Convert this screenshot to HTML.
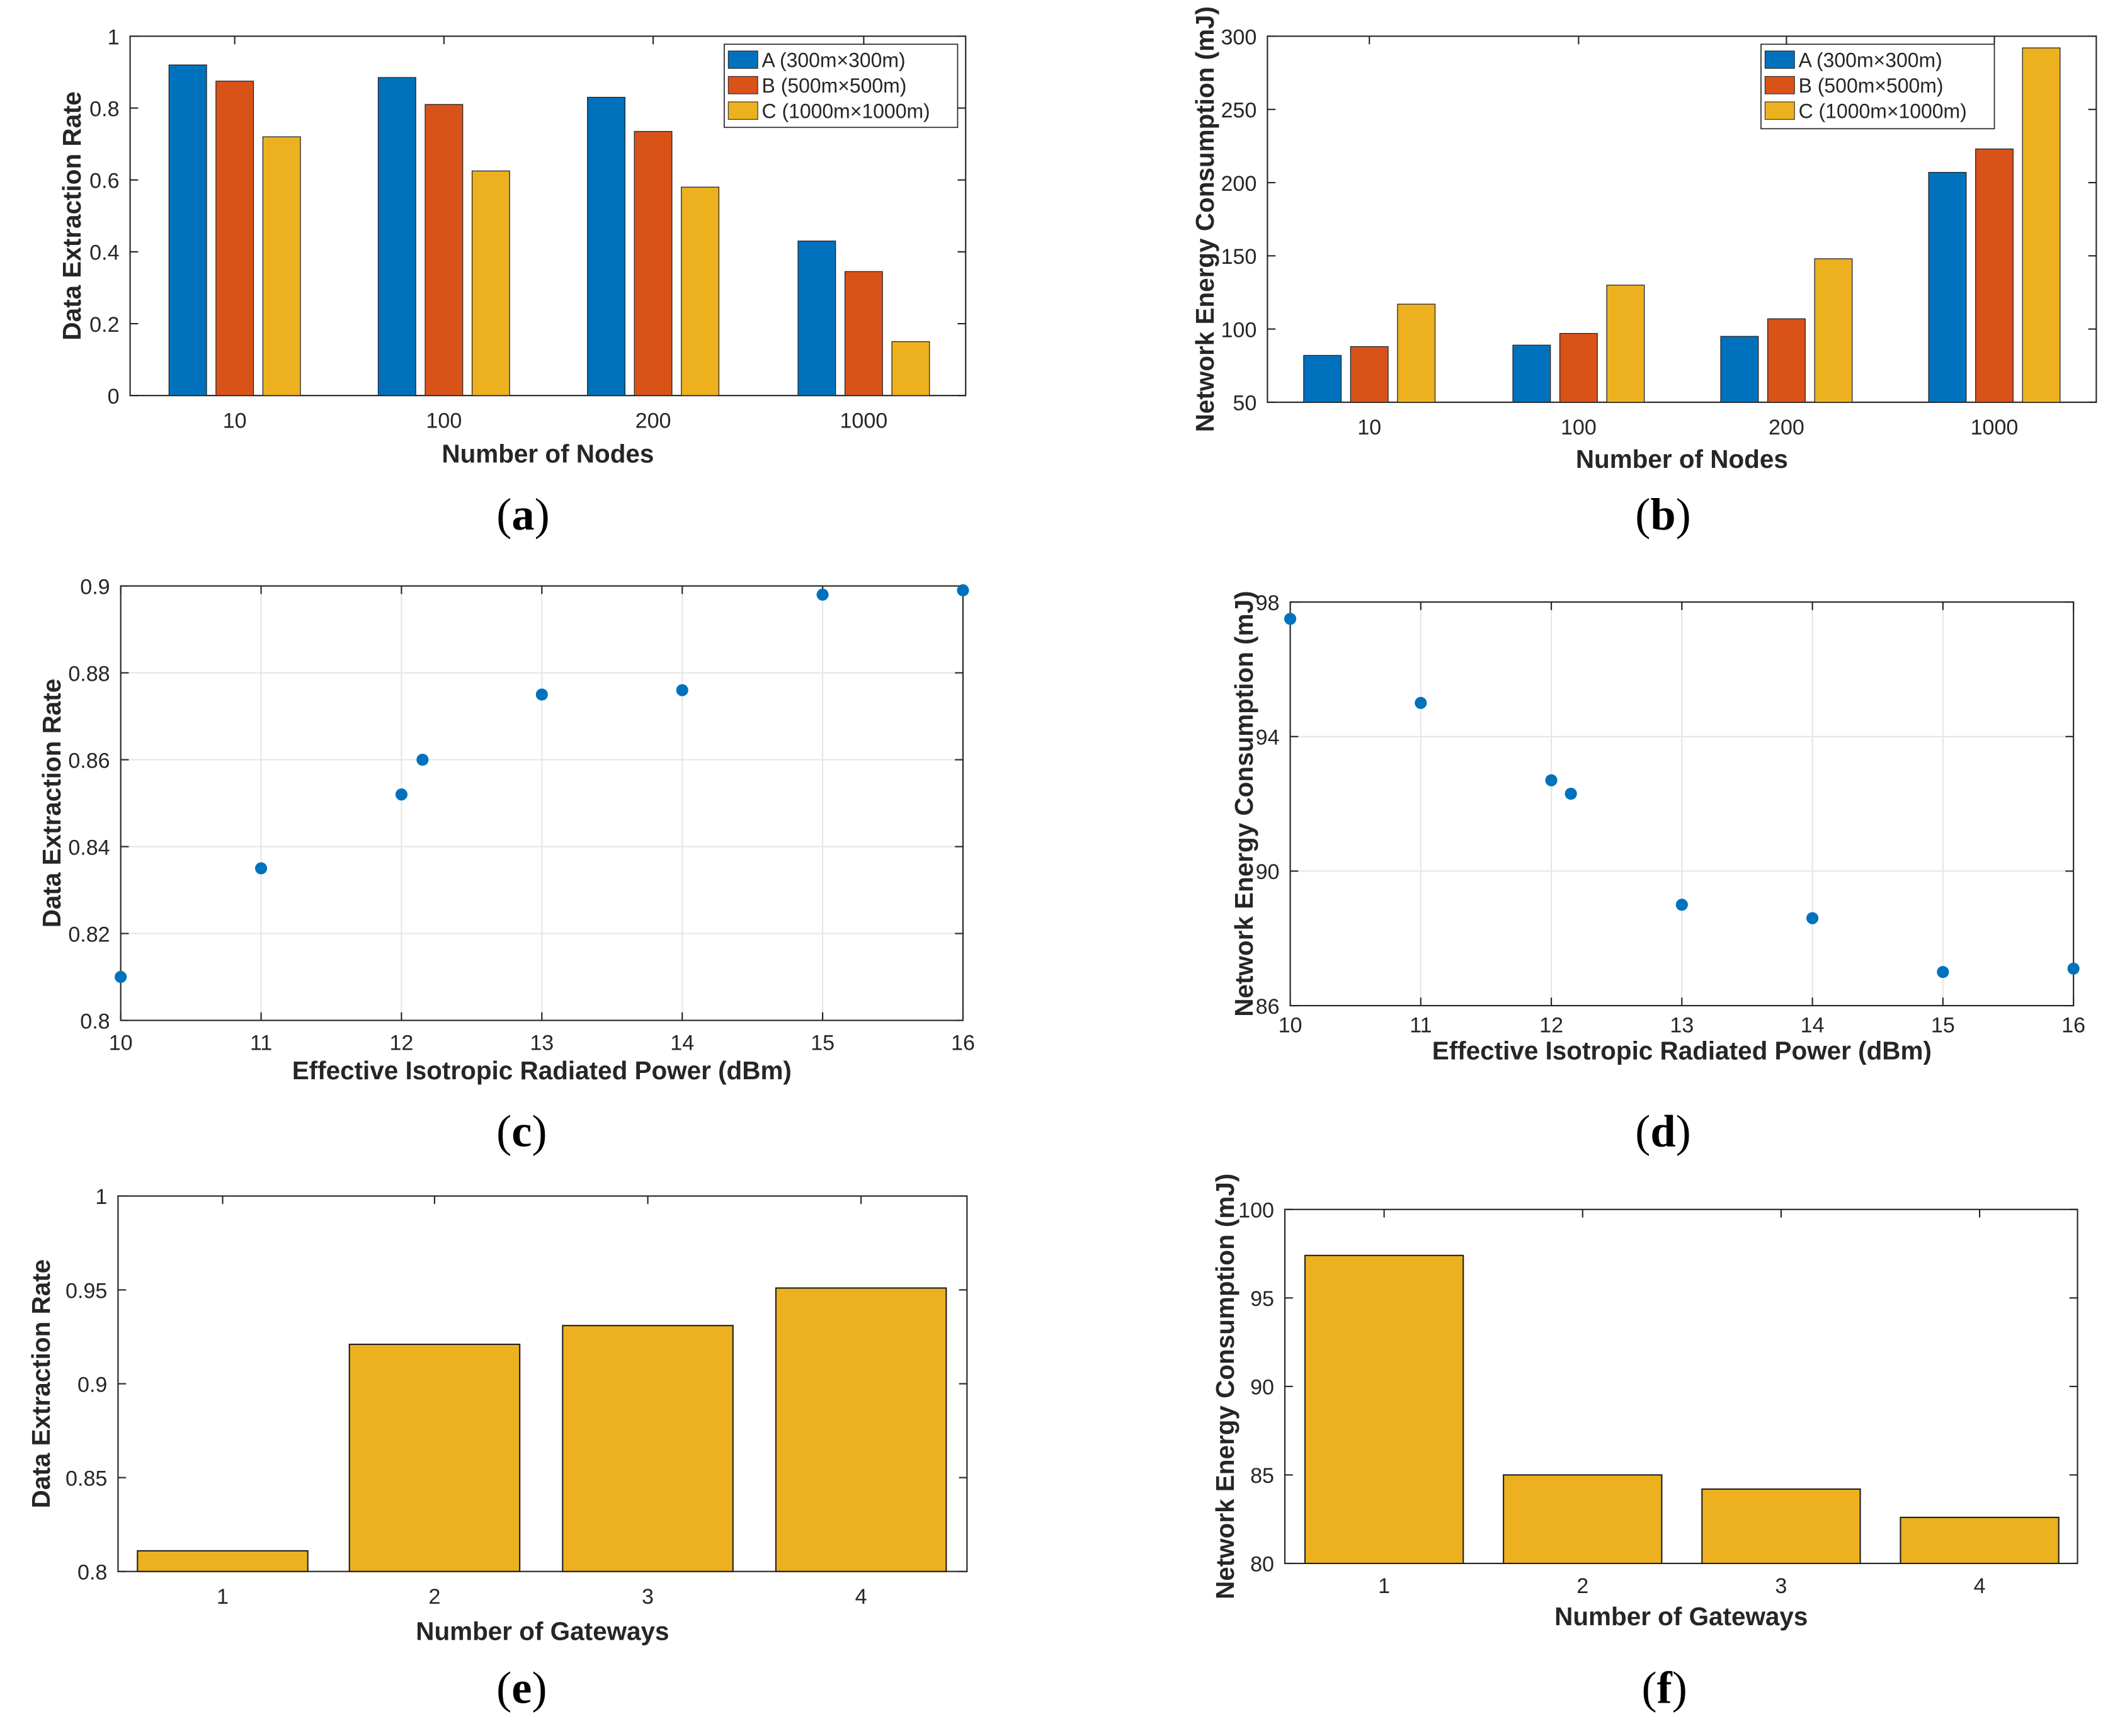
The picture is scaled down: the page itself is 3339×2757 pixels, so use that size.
<!DOCTYPE html>
<html><head><meta charset="utf-8">
<style>
html,body{margin:0;padding:0;background:#fff}
svg{display:block}
text{font-family:"Liberation Sans",sans-serif;fill:#262626}
.tick{font-size:16px}
.lab{font-size:19px;font-weight:bold}
.pl{font-family:"Liberation Serif",serif;font-size:34px;fill:#000}
.leg{font-size:15px}
</style></head>
<body>
<svg id="fig" width="3339" height="2757" viewBox="0 0 1568 1294.7" xmlns="http://www.w3.org/2000/svg"></svg>
<script>
// ---- data ----
const nodeCats = ["10","100","200","1000"];
const extractA = [0.92,0.885,0.83,0.43];
const extractB = [0.875,0.81,0.735,0.345];
const extractC = [0.72,0.625,0.58,0.15];
const energyA = [82,89,95,207];
const energyB = [88,97,107,223];
const energyC = [117,130,148,292];
const eirpX = [10,11,12,12.15,13,14,15,16];
const eirpExtract = [0.81,0.835,0.852,0.86,0.875,0.876,0.898,0.899];
const eirpEnergy = [97.5,95,92.7,92.3,89,88.6,87,87.1];
const gwCats = ["1","2","3","4"];
const gwExtract = [0.811,0.921,0.931,0.951];
const gwEnergy = [97.4,85,84.2,82.6];
const legendNames = ["A (300m\u00d7300m)","B (500m\u00d7500m)","C (1000m\u00d71000m)"];
const colors = ["#0072BD","#D95319","#EDB120"];

const svg = document.getElementById('fig');
const NS = "http://www.w3.org/2000/svg";
function mk(tag, attrs, parent){
  const e = document.createElementNS(NS, tag);
  for (const k in attrs) e.setAttribute(k, attrs[k]);
  (parent||svg).appendChild(e);
  return e;
}
function txt(x,y,s,cls,anchor,parent){
  const t = mk('text',{x:x,y:y,class:cls,'text-anchor':anchor||'middle'},parent);
  t.textContent = s;
  return t;
}

function panel(cfg){
  const g = mk('g',{});
  
  
  const {x0,x1,y0,y1,ymin,ymax} = cfg;
  const ys = v => y1 - (v-ymin)/(ymax-ymin)*(y1-y0);
  const xs = cfg.xs;
  if (cfg.grid){
    cfg.yticks.forEach(v=>{ mk('line',{x1:x0,x2:x1,y1:ys(v),y2:ys(v),stroke:'#e6e6e6','stroke-width':1},g); });
    cfg.xticks.forEach(v=>{ mk('line',{x1:xs(v),x2:xs(v),y1:y0,y2:y1,stroke:'#e6e6e6','stroke-width':1},g); });
  }
  mk('rect',{x:x0,y:y0,width:x1-x0,height:y1-y0,fill:'none',stroke:'#262626','stroke-width':1},g);
  cfg.yticks.forEach((v,i)=>{
    const y = ys(v);
    mk('line',{x1:x0,x2:x0+6,y1:y,y2:y,stroke:'#262626'},g);
    mk('line',{x1:x1,x2:x1-6,y1:y,y2:y,stroke:'#262626'},g);
    const t = txt(x0-8,y+6,cfg.ylabels[i],'tick','end',g);
    
    
  });
  cfg.xticks.forEach((v,i)=>{
    const x = xs(v);
    mk('line',{x1:x,x2:x,y1:y1,y2:y1-6,stroke:'#262626'},g);
    mk('line',{x1:x,x2:x,y1:y0,y2:y0+6,stroke:'#262626'},g);
    const t = txt(x,y1+cfg.xtickOff,cfg.xlabels[i],'tick','middle',g);
    
    
  });
  const xl = txt((x0+x1)/2,cfg.xlabY,cfg.xtitle,'lab','middle',g);
  
  
  const yl = txt(0,0,cfg.ytitle,'lab','middle',g);
  yl.setAttribute('transform',`translate(${cfg.ylabX},${(y0+y1)/2}) rotate(-90)`);
  
  
  const pl = mk('text',{x:cfg.plX,y:cfg.plY,class:'pl','text-anchor':'middle'},g);
  
  
  pl.appendChild(document.createTextNode('('));
  const b = mk('tspan',{'font-weight':'bold'},pl);
  b.textContent = cfg.letter;
  pl.appendChild(document.createTextNode(')'));
  return {g,ys,xs};
}

function groupedBars(P, series, y1, centers, bw, off){
  series.forEach((arr,s)=>{
    arr.forEach((v,i)=>{
      const x = centers[i] + (s-1)*off - bw/2;
      const r = mk('rect',{x:x,y:P.ys(v),width:bw,height:y1-P.ys(v),fill:colors[s],stroke:'#222','stroke-width':0.6},P.g);
      
      
    });
  });
}
function legend(g,x,y,w,h){
  const lg = mk('g',{},g);
  
  
  mk('rect',{x:x,y:y,width:w,height:h,fill:'#fff',stroke:'#262626','stroke-width':0.8},lg);
  legendNames.forEach((n,i)=>{
    const e = mk('g',{},lg);
    
    
    mk('rect',{x:x+3,y:y+5+i*19,width:22,height:13,fill:colors[i],stroke:'#222','stroke-width':0.5},e);
    txt(x+28,y+17+i*19,n,'leg','start',e);
  });
}

{
  const cx = [175,331,487,644];
  const P = panel({name:'panel-a',x0:97,x1:720,y0:27,y1:295,ymin:0,ymax:1,
    yticks:[0,0.2,0.4,0.6,0.8,1],ylabels:["0","0.2","0.4","0.6","0.8","1"],
    xticks:[0,1,2,3],xlabels:nodeCats,xs:i=>cx[i],xtickOff:24,
    xtitle:'Number of Nodes',xlabY:345,ytitle:'Data Extraction Rate',ylabX:60,
    letter:'a',plX:390,plY:395});
  groupedBars(P,[extractA,extractB,extractC],295,cx,28,35);
  legend(P.g,540,33,174,62);
}
{
  const cx = [1021,1177,1332,1487];
  const P = panel({name:'panel-b',x0:945,x1:1563,y0:27,y1:300,ymin:50,ymax:300,
    yticks:[50,100,150,200,250,300],ylabels:["50","100","150","200","250","300"],
    xticks:[0,1,2,3],xlabels:nodeCats,xs:i=>cx[i],xtickOff:24,
    xtitle:'Number of Nodes',xlabY:349,ytitle:'Network Energy Consumption (mJ)',ylabX:905,
    letter:'b',plX:1240,plY:395});
  groupedBars(P,[energyA,energyB,energyC],300,cx,28,35);
  legend(P.g,1313,33,174,63);
}
function scatter(P,xa,ya){
  xa.forEach((x,i)=>{
    const c = mk('circle',{cx:P.xs(x),cy:P.ys(ya[i]),r:4.5,fill:'#0072BD'},P.g);
    
    
  });
}
{
  const P = panel({name:'panel-c',x0:90,x1:718,y0:437,y1:761,ymin:0.8,ymax:0.9,grid:true,
    yticks:[0.8,0.82,0.84,0.86,0.88,0.9],ylabels:["0.8","0.82","0.84","0.86","0.88","0.9"],
    xticks:[10,11,12,13,14,15,16],xlabels:["10","11","12","13","14","15","16"],
    xs:v=>90+(v-10)/6*628,xtickOff:22,
    xtitle:'Effective Isotropic Radiated Power (dBm)',xlabY:805,ytitle:'Data Extraction Rate',ylabX:45,
    letter:'c',plX:389,plY:855});
  scatter(P,eirpX,eirpExtract);
}
{
  const P = panel({name:'panel-d',x0:962,x1:1546,y0:449,y1:750,ymin:86,ymax:98,grid:true,
    yticks:[86,90,94,98],ylabels:["86","90","94","98"],
    xticks:[10,11,12,13,14,15,16],xlabels:["10","11","12","13","14","15","16"],
    xs:v=>962+(v-10)/6*584,xtickOff:20,
    xtitle:'Effective Isotropic Radiated Power (dBm)',xlabY:790,ytitle:'Network Energy Consumption (mJ)',ylabX:934,
    letter:'d',plX:1240,plY:855});
  scatter(P,eirpX,eirpEnergy);
}
function singleBars(P,vals,y1,cx,bw){
  vals.forEach((v,i)=>{
    const r = mk('rect',{x:cx[i]-bw/2,y:P.ys(v),width:bw,height:y1-P.ys(v),fill:'#EDB120',stroke:'#222','stroke-width':1},P.g);
    
    
  });
}
{
  const cx=[166,324,483,642];
  const P = panel({name:'panel-e',x0:88,x1:721,y0:892,y1:1172,ymin:0.8,ymax:1,
    yticks:[0.8,0.85,0.9,0.95,1],ylabels:["0.8","0.85","0.9","0.95","1"],
    xticks:[0,1,2,3],xlabels:gwCats,xs:i=>cx[i],xtickOff:24,
    xtitle:'Number of Gateways',xlabY:1223,ytitle:'Data Extraction Rate',ylabX:37,
    letter:'e',plX:389,plY:1270});
  singleBars(P,gwExtract,1172,cx,127);
}
{
  const cx=[1032,1180,1328,1476];
  const P = panel({name:'panel-f',x0:958,x1:1549,y0:902,y1:1166,ymin:80,ymax:100,
    yticks:[80,85,90,95,100],ylabels:["80","85","90","95","100"],
    xticks:[0,1,2,3],xlabels:gwCats,xs:i=>cx[i],xtickOff:22,
    xtitle:'Number of Gateways',xlabY:1212,ytitle:'Network Energy Consumption (mJ)',ylabX:920,
    letter:'f',plX:1241,plY:1270});
  singleBars(P,gwEnergy,1166,cx,118);
}
</script>
</body></html>
